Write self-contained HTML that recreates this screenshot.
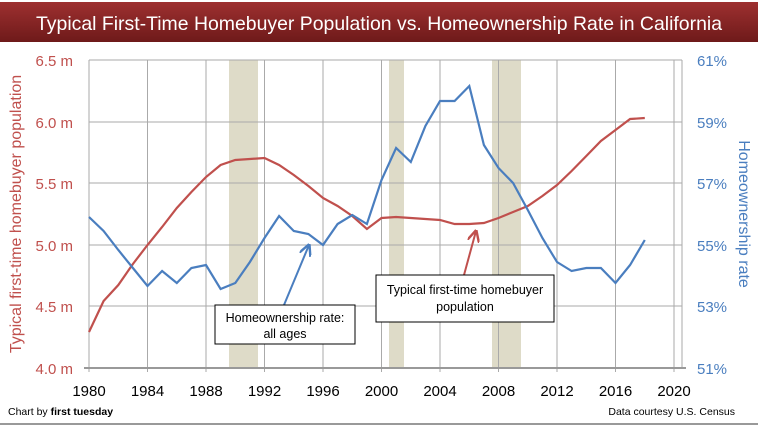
<!DOCTYPE html>
<html><head><meta charset="utf-8"><style>
body{margin:0;background:#fff;}
svg{display:block;font-family:"Liberation Sans",sans-serif;}
</style></head><body>
<svg width="758" height="426" viewBox="0 0 758 426" xmlns="http://www.w3.org/2000/svg">
<defs>
<linearGradient id="tg" x1="0" y1="0" x2="0" y2="1">
<stop offset="0" stop-color="#9e3030"/><stop offset="1" stop-color="#6e1a1a"/>
</linearGradient>
<marker id="ab" viewBox="0 0 10 10" refX="9" refY="5" markerWidth="6" markerHeight="6" orient="auto"><path d="M0,0L10,5L0,10" fill="none" stroke="#4a7ebf" stroke-width="2"/></marker>
<marker id="ar" viewBox="0 0 10 10" refX="9" refY="5" markerWidth="6" markerHeight="6" orient="auto"><path d="M0,0L10,5L0,10" fill="none" stroke="#c0504d" stroke-width="2"/></marker>
</defs>
<rect x="0" y="0" width="758" height="426" fill="#fff"/>
<rect x="0" y="2" width="758" height="40" fill="url(#tg)"/>
<text x="379" y="30" text-anchor="middle" fill="#fff" font-size="19.5" textLength="686" lengthAdjust="spacingAndGlyphs">Typical First-Time Homebuyer Population vs. Homeownership Rate in California</text>
<g fill="#dedbc8">
<rect x="229" y="60" width="29" height="308"/>
<rect x="389" y="60" width="15" height="308"/>
<rect x="492" y="60" width="29" height="308"/>
</g>
<g stroke="#aaa" stroke-width="1">
<line x1="89" y1="60" x2="682" y2="60"/><line x1="89" y1="122" x2="682" y2="122"/><line x1="89" y1="183" x2="682" y2="183"/><line x1="89" y1="245" x2="682" y2="245"/><line x1="89" y1="306" x2="682" y2="306"/>
<line x1="89" y1="60" x2="89" y2="372"/><line x1="147.5" y1="60" x2="147.5" y2="372"/><line x1="206" y1="60" x2="206" y2="372"/><line x1="264.5" y1="60" x2="264.5" y2="372"/><line x1="323" y1="60" x2="323" y2="372"/><line x1="381.5" y1="60" x2="381.5" y2="372"/><line x1="440" y1="60" x2="440" y2="372"/><line x1="498.5" y1="60" x2="498.5" y2="372"/><line x1="557" y1="60" x2="557" y2="372"/><line x1="615.5" y1="60" x2="615.5" y2="372"/><line x1="674" y1="60" x2="674" y2="372"/>
<line x1="682" y1="60" x2="682" y2="368"/>
</g>
<line x1="84" y1="368" x2="686" y2="368" stroke="#999" stroke-width="2"/>
<g fill="#c0504d" font-size="15" text-anchor="end">
<text x="73" y="66">6.5 m</text><text x="73" y="128">6.0 m</text><text x="73" y="189">5.5 m</text><text x="73" y="251">5.0 m</text><text x="73" y="312">4.5 m</text><text x="73" y="374">4.0 m</text>
</g>
<g fill="#4a7ebf" font-size="15">
<text x="697" y="66">61%</text><text x="697" y="128">59%</text><text x="697" y="189">57%</text><text x="697" y="251">55%</text><text x="697" y="312">53%</text><text x="697" y="374">51%</text>
</g>
<g fill="#000" font-size="15" text-anchor="middle">
<text x="89" y="396">1980</text><text x="147.5" y="396">1984</text><text x="206" y="396">1988</text><text x="264.5" y="396">1992</text><text x="323" y="396">1996</text><text x="381.5" y="396">2000</text><text x="440" y="396">2004</text><text x="498.5" y="396">2008</text><text x="557" y="396">2012</text><text x="615.5" y="396">2016</text><text x="674" y="396">2020</text>
</g>
<text transform="translate(21,214) rotate(-90)" text-anchor="middle" fill="#c0504d" font-size="16">Typical first-time homebuyer population</text>
<text transform="translate(739,214) rotate(90)" text-anchor="middle" fill="#4a7ebf" font-size="16">Homeownership rate</text>
<polyline fill="none" stroke="#c0504d" stroke-width="2.2" points="89,332 103.6,301 118.3,285 132.9,264 147.5,245 162.1,227 176.8,208 191.4,192 206,177 220.6,165 235.3,160 249.9,159 264.5,158 279.1,165 293.8,175 308.4,186 323,198 337.6,206 352.3,216 366.9,229 381.5,218 396.1,217 410.8,218 425.4,219 440,220 454.6,224 469.3,224 483.9,223 498.5,218 513.1,212 527.8,206 542.4,196 557,185 571.6,171 586.3,156 600.9,141 615.5,130 630.1,119 644.8,118"/>
<polyline fill="none" stroke="#4a7ebf" stroke-width="2.2" points="89,217 103.6,231 118.3,250 132.9,268 147.5,286 162.1,271 176.8,283 191.4,268 206,265 220.6,289 235.3,283 249.9,262 264.5,238 279.1,216 293.8,231 308.4,234 323,245 337.6,224 352.3,215 366.9,224 381.5,180 396.1,148 410.8,162 425.4,126 440,101 454.6,101 469.3,86 483.9,145 498.5,168 513.1,183 527.8,210 542.4,238 557,262 571.6,271 586.3,268 600.9,268 615.5,283 630.1,265 644.8,240"/>
<line x1="284" y1="305" x2="309" y2="245" stroke="#4a7ebf" stroke-width="2" marker-end="url(#ab)"/>
<line x1="464" y1="275" x2="476" y2="231" stroke="#c0504d" stroke-width="2" marker-end="url(#ar)"/>
<rect x="215" y="305" width="140" height="39" fill="#fff" stroke="#000" stroke-width="1"/>
<text x="285" y="322" text-anchor="middle" font-size="12.5">Homeownership rate:</text>
<text x="285" y="338" text-anchor="middle" font-size="12.5">all ages</text>
<rect x="376" y="275" width="178" height="47" fill="#fff" stroke="#000" stroke-width="1"/>
<text x="465" y="294" text-anchor="middle" font-size="12.5">Typical first-time homebuyer</text>
<text x="465" y="311" text-anchor="middle" font-size="12.5">population</text>
<text x="8" y="415" font-size="10.5">Chart by <tspan font-weight="bold">first tuesday</tspan></text>
<text x="735" y="415" text-anchor="end" font-size="10.5">Data courtesy U.S. Census</text>
<line x1="0" y1="424" x2="758" y2="424" stroke="#999" stroke-width="2"/>
</svg>
</body></html>
